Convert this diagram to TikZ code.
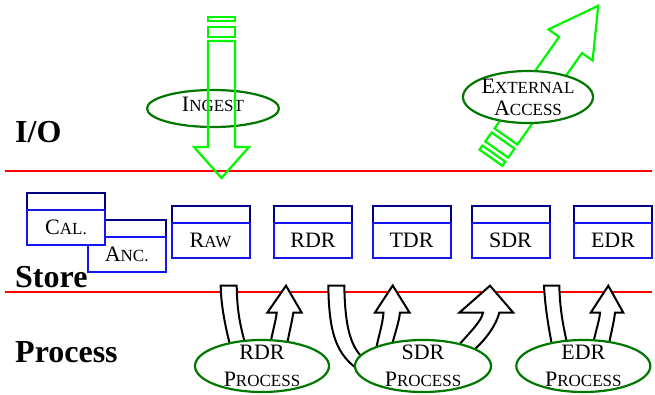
\documentclass[tikz,border=0pt]{standalone}
\usepackage{fontspec}
\setmainfont{Liberation Serif}
\usetikzlibrary{shapes.geometric}
\definecolor{navybox}{RGB}{0,0,128}
\definecolor{bluebox}{RGB}{20,20,240}
\definecolor{brightgreen}{RGB}{0,245,0}
\definecolor{darkgreen}{RGB}{0,120,0}
\definecolor{redline}{RGB}{255,0,0}
\newcommand\mysc[2]{#1{\fontsize{17}{17}\selectfont #2}}
\begin{document}
\begin{tikzpicture}[x=1pt,y=-1pt,
  topbox/.style={draw=navybox, line width=2pt, fill=white, inner sep=0pt, minimum width=78pt, minimum height=17pt},
  lowbox/.style={draw=bluebox, line width=2pt, fill=white, inner sep=0pt, minimum width=78pt, minimum height=35pt, font=\fontsize{22}{22}\selectfont},
  ovalshape/.style={ellipse, draw=darkgreen, line width=2.2pt, fill=white, inner sep=0pt},
  ovaltext/.style={inner sep=0pt, align=center, font=\fontsize{22}{27}\selectfont},
  greenarrow/.style={draw=brightgreen, line width=2.2pt},
  procarrow/.style={draw=black, line width=2pt, fill=white},
  heading/.style={anchor=base west, inner sep=0pt, font=\fontsize{32}{32}\selectfont\bfseries},
  sepline/.style={draw=redline, line width=1.4pt}]
\useasboundingbox (0,0) rectangle (655,394);

% separator lines
\coordinate (ioL) at (5,171);
\coordinate (ioR) at (652,171);
\coordinate (spL) at (5,292);
\coordinate (spR) at (652,292);
\draw[sepline] (ioL) -- (ioR);
\draw[sepline] (spL) -- (spR);

% headings
\node[heading] (hio) at (15,142) {I/O};
\node[heading] (hstore) at (15,287) {Store};
\node[heading] (hproc) at (15,362) {Process};

% store boxes
\node[topbox] (ancT) at (126.7,228) {};
\node[lowbox] (anc) at (126.7,254.2) {\mysc{A}{NC.}};
\node[topbox] (calT) at (66,201.2) {};
\node[lowbox] (cal) at (66,227.5) {\mysc{C}{AL.}};
\node[topbox] (rawT) at (210.5,214.5) {};
\node[lowbox] (raw) at (210.5,240.5) {\mysc{R}{AW}};
\node[topbox] (rdrT) at (313,214.5) {};
\node[lowbox] (rdr) at (313,240.5) {RDR};
\node[topbox] (tdrT) at (411.5,214.5) {};
\node[lowbox] (tdr) at (411.5,240.5) {TDR};
\node[topbox] (sdrT) at (510.5,214.5) {};
\node[lowbox] (sdr) at (510.5,240.5) {SDR};
\node[topbox] (edrT) at (613,214.5) {};
\node[lowbox] (edr) at (613,240.5) {EDR};

% ingest
\node[ovalshape, minimum width=132pt, minimum height=37pt] (ingest) at (213,108.5) {};
\node[ovaltext] (ingestT) at (213,104.7) {\mysc{I}{NGEST}};
\draw[greenarrow] (208,41) -- (235,41) -- (235,147) -- (249,147) -- (221.5,178) -- (194,147) -- (208,147) -- cycle;
\draw[greenarrow] (208,27) rectangle (235,37);
\draw[greenarrow] (208,17) rectangle (235,21);

% external access
\begin{scope}[shift={(506,136.5)}, rotate=54.8]
  \draw[greenarrow] (0,-14) -- (112,-14) -- (112,-27) -- (160,0) -- (112,27) -- (112,14) -- (0,14) -- cycle;
  \draw[greenarrow] (-5,-14) rectangle (-16,14);
  \draw[greenarrow] (-21,-14) rectangle (-26,14);
\end{scope}
\node[ovalshape, minimum width=130pt, minimum height=52pt] (ext) at (528,97) {};
\node[ovaltext, font=\fontsize{22}{22}\selectfont] (extT) at (528,97) {\mysc{E}{XTERNAL}\\\mysc{A}{CCESS}};

% process arrows
% RDR process
\draw[procarrow] (220.7,285.7) -- (236.7,285.7) .. controls (237,310) and (240,325) .. (245,343) -- (230,345) .. controls (225,325) and (221,305) .. (220.7,285.7) -- cycle;
\draw[procarrow] (270,345) .. controls (273,330) and (276,320) .. (276.7,312.7) -- (267.3,312.7) -- (286,285.7) -- (301.7,312.7) -- (293.3,312.7) .. controls (292,322) and (289,333) .. (287,345) -- cycle;
% SDR process
\draw[procarrow] (328.3,285.7) -- (344.3,285.7) .. controls (345,325) and (350,345) .. (362,357) -- (356,368) .. controls (335,352) and (329,330) .. (328.3,285.7) -- cycle;
\draw[procarrow] (376,349) .. controls (379,335) and (383,322) .. (383.5,312.5) -- (375,312.5) -- (392.7,285.5) -- (409.5,312.5) -- (400,312.5) .. controls (399,322) and (395,333) .. (392,345) -- cycle;
\draw[procarrow] (458,346) .. controls (470,332) and (481,322) .. (483,312.7) -- (459.3,312.7) -- (490,285.7) -- (513.3,312.7) -- (499.3,312.7) .. controls (496,325) and (487,338) .. (474,350) -- cycle;
% EDR process
\draw[procarrow] (544,285.7) -- (559.3,285.7) .. controls (560,310) and (563,325) .. (567,343) -- (552,345) .. controls (548,325) and (545,305) .. (544,285.7) -- cycle;
\draw[procarrow] (593,344) .. controls (596,330) and (599.5,320) .. (600,312.7) -- (590.7,312.7) -- (608.3,285.7) -- (623.3,312.7) -- (615,312.7) .. controls (614,322) and (611,333) .. (609,344) -- cycle;

% process ovals
\node[ovalshape, minimum width=134pt, minimum height=52pt] (rdrp) at (262,366) {};
\node[ovaltext] (rdrpT) at (rdrp.center) {RDR\\\mysc{P}{ROCESS}};
\node[ovalshape, minimum width=136pt, minimum height=52pt] (sdrp) at (423,366) {};
\node[ovaltext] (sdrpT) at (sdrp.center) {SDR\\\mysc{P}{ROCESS}};
\node[ovalshape, minimum width=134pt, minimum height=52pt] (edrp) at (583.3,366) {};
\node[ovaltext] (edrpT) at (edrp.center) {EDR\\\mysc{P}{ROCESS}};
\end{tikzpicture}
\end{document}
